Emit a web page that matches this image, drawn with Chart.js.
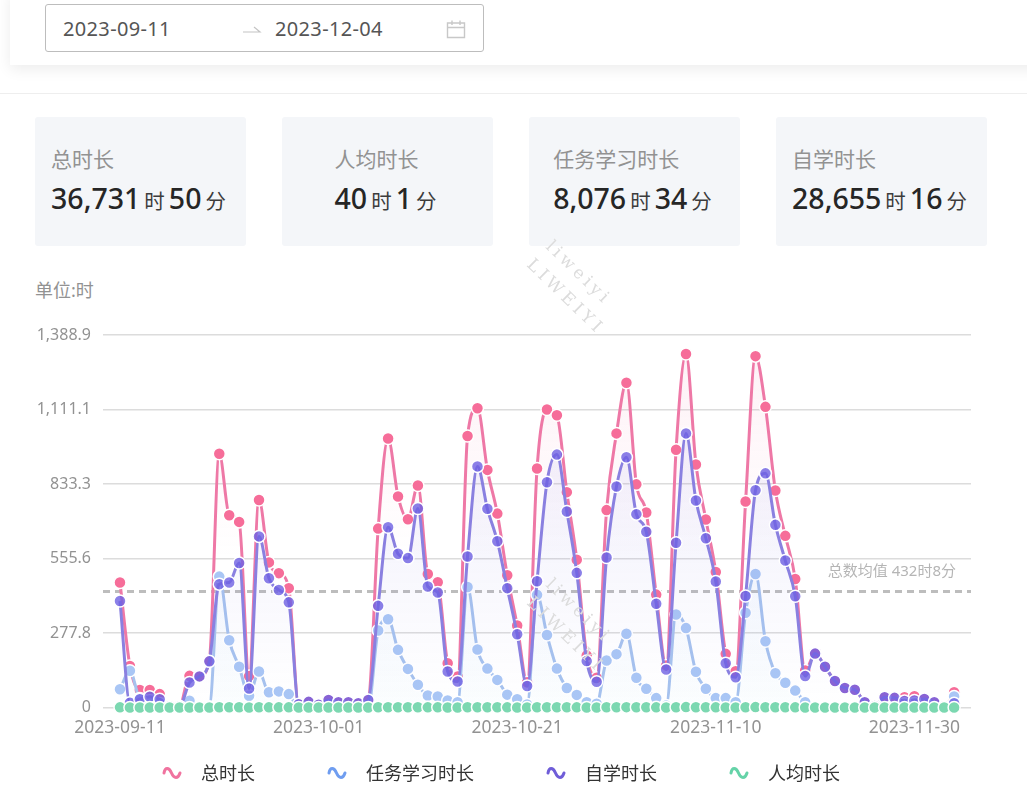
<!DOCTYPE html>
<html>
<head>
<meta charset="utf-8">
<script src="https://cdn.jsdelivr.net/npm/chart.js@4/dist/chart.umd.min.js"></script>
<style>
    * { box-sizing: border-box; }
    html, body { margin: 0; padding: 0; background: #fff; overflow: hidden; }
    body { width: 1027px; height: 794px; position: relative; font-family: 'Noto Sans', 'Noto Sans CJK SC', sans-serif; }
    .topbar { position: absolute; left: 10px; top: -10px; width: 1030px; height: 75px; background: #fff; box-shadow: 0 4px 14px rgba(0,0,0,0.08); }
    .divider { position: absolute; left: 0; top: 93px; width: 1027px; height: 1px; background: #eeeeee; }
    .picker { position: absolute; left: 45px; top: 4px; width: 439px; height: 48px; border: 1px solid #bdbdbd; border-radius: 3px; background: #fff; color: #555; font-size: 20px; letter-spacing: 0.35px; }
    .picker span, .picker svg { position: absolute; }
    .card { position: absolute; top: 117px; width: 211px; height: 129px; background: #f4f6f9; border-radius: 3px; display: flex; justify-content: center; }
    .card .label { margin-top: 28px; font-size: 21px; line-height: 29px; color: #929292; }
    .card .value { margin-top: 6px; color: #262626; font-size: 20.5px; line-height: 36px; white-space: nowrap; }
    .card b { font-size: 28.5px; font-weight: 500; margin-right: 4px; }
    .card i { font-style: normal; margin-right: 4px; color: #3c3c3c; }
    .unit { position: absolute; left: 35px; top: 278px; font-size: 18px; line-height: 24px; color: #929292; }
    .mark { position: absolute; font-family: 'DejaVu Serif', serif; font-size: 17px; color: #dcdcdc; letter-spacing: 4px; transform: rotate(44deg); transform-origin: left top; white-space: nowrap; }
    #chart-wrap { position: absolute; left: 0; top: 280px; width: 1027px; height: 480px; }
    #legend { position: absolute; left: 162px; top: 759px; display: flex; align-items: center; font-size: 18px; line-height: 28px; color: #333; }
    #legend svg { margin-right: 19px; }
    #legend .item { display: flex; align-items: center; margin-right: 72px; }
</style>
</head>
<body>
<div class="topbar"></div>
<div class="divider"></div>
<div class="picker">
    <span style="left:17px;top:10px">2023-09-11</span>
    <svg style="left:196px;top:18px" width="20" height="14"><path d="M1 9H18L12 4" fill="none" stroke="#c4c4c4" stroke-width="1.2"/></svg>
    <span style="left:229px;top:10px">2023-12-04</span>
    <svg style="left:400px;top:14px" width="20" height="20"><path d="M1.5 4H18.5V18.5H1.5ZM1.5 8.5H18.5M6 1.5V6M14 1.5V6" fill="none" stroke="#c8c8c8" stroke-width="1.4"/></svg>
</div>

<div class="card" style="left:35px"><div><div class="label">总时长</div><div class="value"><b>36,731</b><i>时</i><b>50</b><i>分</i></div></div></div>
<div class="card" style="left:282px"><div><div class="label">人均时长</div><div class="value"><b>40</b><i>时</i><b>1</b><i>分</i></div></div></div>
<div class="card" style="left:529px"><div><div class="label">任务学习时长</div><div class="value"><b>8,076</b><i>时</i><b>34</b><i>分</i></div></div></div>
<div class="card" style="left:776px"><div><div class="label">自学时长</div><div class="value"><b>28,655</b><i>时</i><b>16</b><i>分</i></div></div></div>

<div class="unit">单位:时</div>
<div id="chart-wrap"><canvas id="studyChart"></canvas></div>
<div class="mark" style="left:556px;top:236px">liweiyi</div>
<div class="mark" style="left:537px;top:254px">LIWEIYI</div>
<div class="mark" style="left:556px;top:574px">liweiyi</div>
<div class="mark" style="left:537px;top:592px">LIWEIYI</div>
<div id="legend"></div>

<script>
// ─── DATA ─────────────────────────────────────────────────────────────────────
const days = [
    '2023-09-11','2023-09-12','2023-09-13','2023-09-14','2023-09-15','2023-09-16','2023-09-17','2023-09-18','2023-09-19','2023-09-20',
    '2023-09-21','2023-09-22','2023-09-23','2023-09-24','2023-09-25','2023-09-26','2023-09-27','2023-09-28','2023-09-29','2023-09-30',
    '2023-10-01','2023-10-02','2023-10-03','2023-10-04','2023-10-05','2023-10-06','2023-10-07','2023-10-08','2023-10-09','2023-10-10',
    '2023-10-11','2023-10-12','2023-10-13','2023-10-14','2023-10-15','2023-10-16','2023-10-17','2023-10-18','2023-10-19','2023-10-20',
    '2023-10-21','2023-10-22','2023-10-23','2023-10-24','2023-10-25','2023-10-26','2023-10-27','2023-10-28','2023-10-29','2023-10-30',
    '2023-10-31','2023-11-01','2023-11-02','2023-11-03','2023-11-04','2023-11-05','2023-11-06','2023-11-07','2023-11-08','2023-11-09',
    '2023-11-10','2023-11-11','2023-11-12','2023-11-13','2023-11-14','2023-11-15','2023-11-16','2023-11-17','2023-11-18','2023-11-19',
    '2023-11-20','2023-11-21','2023-11-22','2023-11-23','2023-11-24','2023-11-25','2023-11-26','2023-11-27','2023-11-28','2023-11-29',
    '2023-11-30','2023-12-01','2023-12-02','2023-12-03','2023-12-04'
];
const totalHours = [
    466,155,65,65,50,5,5,118,116,175,946,717,692,117,774,541,501,445,12,21,
    10,28,20,20,16,28,667,1003,787,702,828,498,467,165,116,1012,1116,886,723,493,
    306,94,891,1111,1090,803,551,194,111,736,1022,1211,832,727,421,157,961,1318,906,701,
    505,200,135,768,1310,1121,809,640,479,138,201,152,99,73,66,20,6,38,36,38,
    42,32,20,5,57
];
const taskHours = [
    68,137,34,25,15,0,0,25,0,3,488,251,152,44,134,57,60,50,0,0,
    0,0,0,0,0,0,287,329,215,144,85,45,41,26,20,449,216,145,103,48,
    31,11,420,270,145,73,47,20,14,175,199,275,111,70,35,7,347,296,133,70,
    35,35,20,353,498,247,128,92,63,20,0,0,0,0,0,0,0,0,0,14,
    16,0,0,0,41
];
const selfHours = [
    397,18,31,40,31,5,5,93,116,172,460,466,539,71,638,482,438,392,12,21,
    10,28,20,20,16,28,379,672,573,557,742,451,429,134,97,563,899,741,620,445,
    273,80,471,840,943,731,502,173,96,559,824,933,721,655,387,142,614,1022,772,631,
    470,165,113,416,810,873,681,548,415,117,201,152,99,73,66,20,6,38,36,24,
    26,32,20,5,16
];
const avgHours = [
    0.5,0.2,0.1,0.1,0.1,0,0,0.1,0.1,0.2,1,0.8,0.8,0.1,0.8,0.6,0.5,0.5,0,0,
    0,0,0,0,0,0,0.7,1.1,0.9,0.8,0.9,0.5,0.5,0.2,0.1,1.1,1.2,1,0.8,0.5,
    0.3,0.1,1,1.2,1.2,0.9,0.6,0.2,0.1,0.8,1.1,1.3,0.9,0.8,0.5,0.2,1,1.4,1,0.8,
    0.6,0.2,0.1,0.8,1.4,1.2,0.9,0.7,0.5,0.2,0.2,0.2,0.1,0.1,0.1,0,0,0,0,0,
    0,0,0,0,0.1
];
const yTicks = [0, 277.8, 555.6, 833.3, 1111.1, 1388.9];
const xTicks = [0, 20, 40, 60, 80];
const meanValue = 432.13;
const meanLabel = '总数均值 432时8分';

const series = [
    { name: '总时长', values: totalHours, swatch: '#f0739f', line: '#ee78a6', point: '#f66d99', top: 'rgba(240,110,160,0.10)', mid: 'rgba(240,110,160,0)', bottom: 'rgba(240,110,160,0)', order: 4 },
    { name: '任务学习时长', values: taskHours, swatch: '#6f9df0', line: '#a6c2ee', point: '#a9c6f5', top: 'rgba(130,180,240,0.14)', mid: 'rgba(130,180,240,0.06)', bottom: 'rgba(130,210,240,0.03)', order: 3 },
    { name: '自学时长', values: selfHours, swatch: '#6f5dd8', line: '#8a80e0', point: 'rgba(110,96,226,0.8)', top: 'rgba(120,115,225,0.12)', mid: 'rgba(120,115,225,0.06)', bottom: 'rgba(120,115,225,0)', order: 2 },
    { name: '人均时长', values: avgHours, swatch: '#65d3a8', line: '#7dd8b2', point: '#7cd8b1', top: 'rgba(0,0,0,0)', mid: 'rgba(0,0,0,0)', bottom: 'rgba(0,0,0,0)', order: 1 }
];

// ─── CHART ────────────────────────────────────────────────────────────────────
Chart.defaults.font.family = "'Noto Sans', 'Noto Sans CJK SC', sans-serif";
Chart.defaults.color = '#929292';

const areaFill = s => ctx => {
    const area = ctx.chart.chartArea;
    if (!area) return s.top;
    const g = ctx.chart.ctx.createLinearGradient(0, area.top, 0, area.bottom);
    g.addColorStop(0, s.top);
    g.addColorStop(0.6, s.mid);
    g.addColorStop(1, s.bottom);
    return g;
};

const meanLine = {
    id: 'meanLine',
    beforeDatasetsDraw(chart) {
        const { ctx, chartArea, scales } = chart;
        const y = scales.y.getPixelForValue(meanValue);
        ctx.save();
        ctx.strokeStyle = '#bdbdbd';
        ctx.lineWidth = 3;
        ctx.setLineDash([7, 5]);
        ctx.beginPath();
        ctx.moveTo(chartArea.left, y);
        ctx.lineTo(chartArea.right, y);
        ctx.stroke();
        ctx.setLineDash([]);
        ctx.fillStyle = '#b5b5b5';
        ctx.font = "15px 'Noto Sans', 'Noto Sans CJK SC', sans-serif";
        ctx.textAlign = 'right';
        ctx.fillText(meanLabel, 956, y - 16);
        ctx.restore();
    }
};

new Chart(document.getElementById('studyChart'), {
    type: 'line',
    data: {
        datasets: series.map(s => ({
            label: s.name,
            data: s.values.map((v, i) => ({ x: i, y: v })),
            order: s.order,
            borderColor: s.line,
            borderWidth: 3,
            backgroundColor: areaFill(s),
            fill: s.name === '人均时长' ? false : 'origin',
            cubicInterpolationMode: 'monotone',
            pointRadius: 6,
            pointBorderWidth: 1.5,
            pointBorderColor: '#ffffff',
            pointBackgroundColor: s.point,
            clip: false
        }))
    },
    plugins: [meanLine],
    options: {
        responsive: true,
        maintainAspectRatio: false,
        animation: false,
        layout: { padding: { top: 55, right: 56, left: 0, bottom: 0 } },
        plugins: { legend: { display: false }, tooltip: { enabled: false } },
        scales: {
            x: {
                type: 'linear',
                min: -1.71,
                max: 85.7,
                afterBuildTicks: axis => { axis.ticks = xTicks.map(v => ({ value: v })); },
                afterFit: axis => { axis.height = 52.5; },
                grid: { display: false },
                border: { display: false },
                ticks: {
                    callback: v => days[v],
                    autoSkip: false,
                    maxRotation: 0,
                    padding: 2,
                    font: { size: 17.5 },
                    color: '#929292'
                }
            },
            y: {
                min: 0,
                max: 1388.9,
                afterBuildTicks: axis => { axis.ticks = yTicks.map(v => ({ value: v })); },
                afterFit: axis => { axis.width = 103; },
                grid: { color: '#dcdcdc', lineWidth: 1.5, drawTicks: false },
                border: { display: false },
                ticks: {
                    callback: v => v === 0 ? '0' : v.toLocaleString('en-US', { minimumFractionDigits: 1 }),
                    padding: 12,
                    font: { size: 16 },
                    color: '#929292'
                }
            }
        }
    }
});

// ─── LEGEND ───────────────────────────────────────────────────────────────────
document.getElementById('legend').innerHTML = series.map(s => `
    <div class="item">
        <svg width="20" height="14" viewBox="0 0 20 14"><path d="M2 7C3 1 7 1 9.5 7S16 13 18 7" fill="none" stroke="${s.swatch}" stroke-width="3" stroke-linecap="round"/></svg>
        <span>${s.name}</span>
    </div>`).join('');
</script>
</body>
</html>
